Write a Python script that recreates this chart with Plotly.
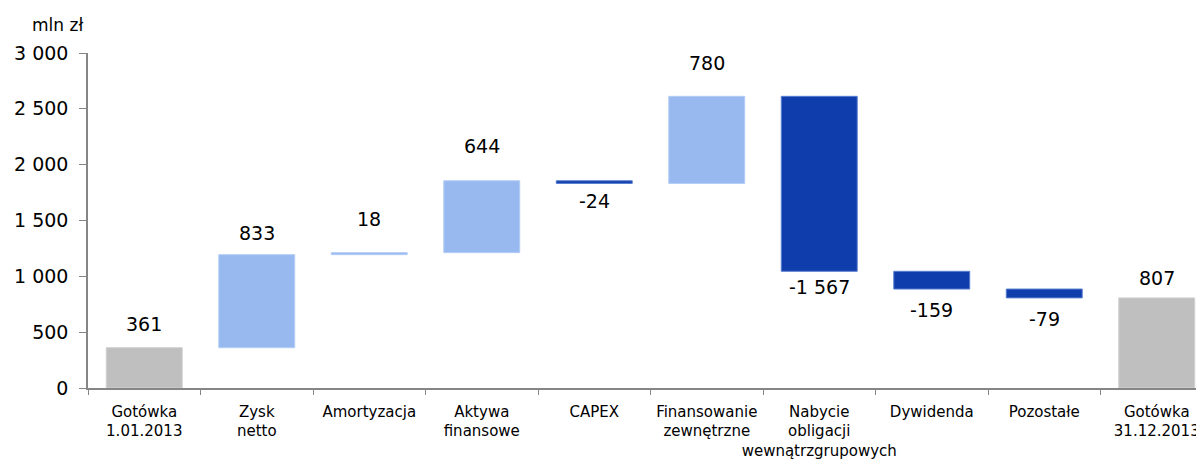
import numpy as np
import plotly.graph_objects as go

categories = ["Gotówka<br>1.01.2013", "Zysk<br>netto", "Amortyzacja", "Aktywa<br>finansowe",
              "CAPEX", "Finansowanie<br>zewnętrzne", "Nabycie<br>obligacji<br>wewnątrzgrupowych",
              "Dywidenda", "Pozostałe", "Gotówka<br>31.12.2013"]
values = [361, 833, 18, 644, -24, 780, -1567, -159, -79, 807]
measures = ["absolute", "relative", "relative", "relative", "relative", "relative",
            "relative", "relative", "relative", "total"]
labels = ["361", "833", "18", "644", "-24", "780", "-1 567", "-159", "-79", "807"]
y_ticks = [0, 500, 1000, 1500, 2000, 2500, 3000]
y_tick_text = ["0", "500", "1 000", "1 500", "2 000", "2 500", "3 000"]

# label distance from bar end (px), styling only
label_gap = [24, 22, 34, 35, 18, 33, 16, 21, 21, 20]

GRAY = "#BFBFBF"
LIGHT = "#97B9F0"
DARK = "#0F3DAB"
FONT = "DejaVu Sans"

fig = go.Figure()
fig.add_trace(go.Waterfall(
    x=categories, y=values, measure=measures,
    connector=dict(visible=False),
    increasing=dict(marker=dict(color=LIGHT, line=dict(color="#B4CDF5", width=1))),
    decreasing=dict(marker=dict(color=DARK, line=dict(color="#5A7FD0", width=1))),
    totals=dict(marker=dict(color=GRAY, line=dict(color="#D0D0D0", width=1))),
    width=[0.675] * len(values),
    hoverinfo="skip",
))

# label anchors at the bar ends
ends = []
running = 0
for m, v in zip(measures, values):
    if m == "absolute":
        start, running = 0, v
    elif m == "total":
        start = 0
    else:
        start, running = running, running + v
    ends.append((start, running))

for i, (cat, v, lab) in enumerate(zip(categories, values, labels)):
    s, e = ends[i]
    if measures[i] == "relative" and v < 0:
        y, shift = min(s, e), -label_gap[i]
    else:
        y, shift = max(s, e), label_gap[i]
    fig.add_annotation(x=cat, y=y, yshift=shift, text=lab, showarrow=False,
                       xanchor="center", yanchor="middle",
                       font=dict(family=FONT, size=19, color="#000000"))

fig.add_annotation(xref="paper", yref="paper", x=-0.0273, y=1.0, yshift=28,
                   text="mln zł", showarrow=False, xanchor="center", yanchor="middle",
                   font=dict(family=FONT, size=17, color="#000000"))

fig.update_layout(
    width=1196, height=459,
    margin=dict(l=80, r=0, t=45, b=79),
    paper_bgcolor="white", plot_bgcolor="white",
    showlegend=False,
    font=dict(family=FONT, color="#000000"),
)
fig.update_xaxes(
    type="category", range=[-0.5, 9.42], automargin=False, tickangle=0,
    showline=True, linecolor="#868686", linewidth=1.5,
    ticks="outside", tickson="boundaries", ticklen=5, tickcolor="#868686",
    ticklabelstandoff=9,
    showgrid=False, tickfont=dict(family=FONT, size=15, color="#000000"),
)
fig.update_yaxes(
    range=[0, 3000], tickvals=y_ticks, ticktext=y_tick_text, automargin=False,
    showline=True, linecolor="#868686", linewidth=1.5,
    ticks="outside", ticklen=7, tickcolor="#868686", ticklabelstandoff=7,
    showgrid=False, zeroline=False,
    tickfont=dict(family=FONT, size=19, color="#000000"),
)

fig.write_html("out.html")
